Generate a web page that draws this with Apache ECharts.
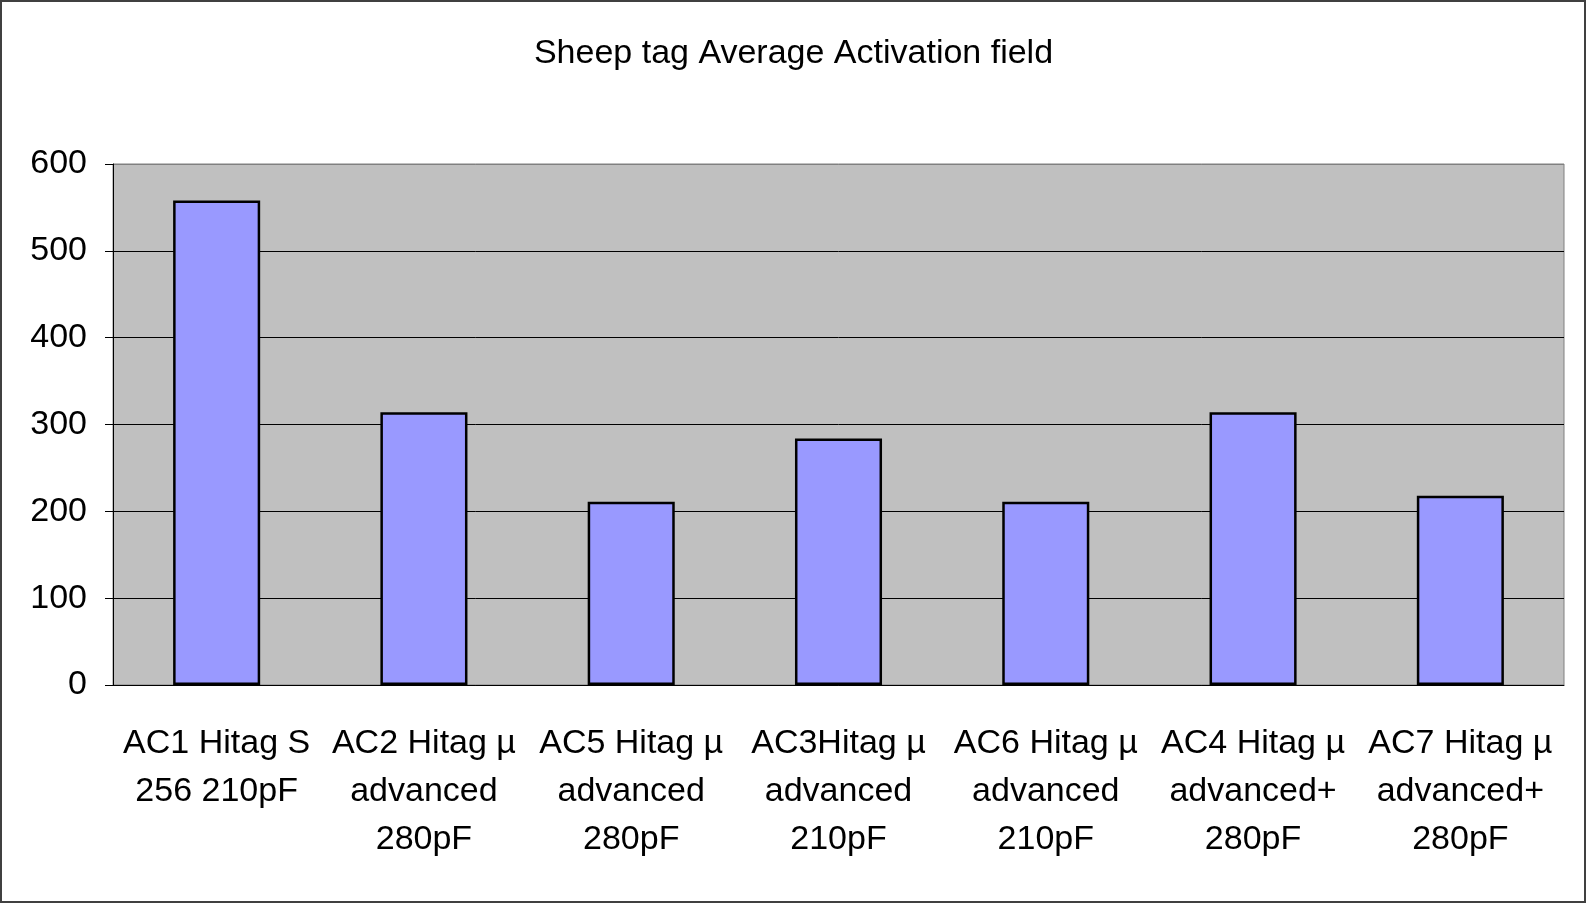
<!DOCTYPE html>
<html>
<head>
<meta charset="utf-8">
<script src="https://cdn.jsdelivr.net/npm/echarts@6/dist/echarts.min.js"></script>
<style>
  html, body { margin: 0; padding: 0; background: #fff; }
  #main { width: 1587px; height: 904px; }
</style>
</head>
<body>
<div id="main"></div>
<script>
var categories = [
    'AC1 Hitag S\n256 210pF',
    'AC2 Hitag µ\nadvanced\n280pF',
    'AC5 Hitag µ\nadvanced\n280pF',
    'AC3Hitag µ\nadvanced\n210pF',
    'AC6 Hitag µ\nadvanced\n210pF',
    'AC4 Hitag µ\nadvanced+\n280pF',
    'AC7 Hitag µ\nadvanced+\n280pF'
];
var activation = [558, 314, 211, 284, 211, 314, 218];
var yTicks = { min: 0, max: 600, step: 100 };

var font = 'Liberation Sans, Arial, sans-serif';
var myChart = echarts.init(document.getElementById('main'));
var option = {
    backgroundColor: '#fff',
    animation: false,
    title: {
        text: 'Sheep tag Average Activation field',
        left: 'center',
        top: 32,
        textStyle: { fontFamily: font, fontSize: 34, fontWeight: 'normal', color: '#000' }
    },
    graphic: [{
        type: 'rect',
        shape: { x: 1, y: 1, width: 1584, height: 901 },
        style: { fill: null, stroke: '#404040', lineWidth: 2 }
    }],
    grid: {
        left: 113,
        right: 23,
        top: 164,
        bottom: 219,
        show: true,
        backgroundColor: '#c0c0c0',
        borderColor: '#808080',
        borderWidth: 1
    },
    xAxis: {
        type: 'category',
        data: categories,
        axisLine: { lineStyle: { color: '#000', width: 1 } },
        axisTick: { length: 9, lineStyle: { color: '#000' } },
        axisLabel: {
            interval: 0,
            margin: 35,
            fontFamily: font,
            fontSize: 34,
            lineHeight: 48,
            color: '#000'
        }
    },
    yAxis: {
        type: 'value',
        min: yTicks.min,
        max: yTicks.max,
        interval: yTicks.step,
        axisLine: { show: true, lineStyle: { color: '#000', width: 1 } },
        axisTick: { show: true, length: 8, lineStyle: { color: '#000' } },
        axisLabel: { margin: 26, fontFamily: font, fontSize: 34, color: '#000' },
        splitLine: {
            lineStyle: {
                color: ['#000', '#000', '#000', '#000', '#000', '#000', '#808080'],
                width: 1
            }
        }
    },
    series: [{
        type: 'bar',
        data: activation,
        barWidth: '42%',
        itemStyle: { color: '#9999ff', borderColor: '#000', borderWidth: 2.5 }
    }]
};
myChart.setOption(option);
</script>
</body>
</html>
